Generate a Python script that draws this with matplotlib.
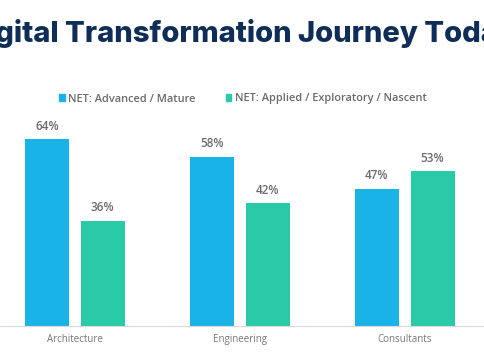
import matplotlib
matplotlib.use("Agg")
import matplotlib.pyplot as plt
from matplotlib.patches import Patch

# データ
categories = ["Architecture", "Engineering", "Consultants"]
advanced = [64, 58, 47]
applied = [36, 42, 53]
series_names = ["NET: Advanced / Mature", "NET: Applied / Exploratory / Nascent"]
title = "Digital Transformation Journey Today"

blue = "#19b3e8"
green = "#29caa7"
gray = "#6b6b6b"
navy = "#0e2e57"

plt.rcParams["font.family"] = ["Open Sans", "DejaVu Sans"]

fig = plt.figure(figsize=(4.85, 3.6), dpi=100)
ax = fig.add_axes([0, 34 / 360, 1, 326 / 360])

x = list(range(len(categories)))
w = 0.267
b1 = ax.bar([i - 0.17 for i in x], advanced, width=w, color=blue)
b2 = ax.bar([i + 0.167 for i in x], applied, width=w, color=green)

for bars, vals in [(b1, advanced), (b2, applied)]:
    for r, v in zip(bars, vals):
        ax.text(r.get_x() + r.get_width() / 2, v + 2.2, f"{v}%",
                ha="center", va="bottom", fontsize=8.5, color=gray, fontweight="semibold")

ax.set_xlim(-75 / 165, 410 / 165)
ax.set_ylim(0, 326 / 2.92)
ax.set_xticks(x)
ax.set_xticklabels(categories, fontsize=7, color="#777777")
ax.tick_params(axis="x", length=0, pad=6)
ax.set_yticks([])
for s in ["top", "left", "right"]:
    ax.spines[s].set_visible(False)
ax.spines["bottom"].set_color("#d9d9d9")
ax.spines["bottom"].set_linewidth(0.8)

handles = [Patch(color=blue), Patch(color=green)]
fig.legend(handles, series_names, loc="center", bbox_to_anchor=(243 / 485, 1 - 99 / 360),
           ncol=2, frameon=False, prop={"size": 7.9, "weight": "semibold"},
           handlelength=0.5, handleheight=0.5,
           handletextpad=0.3, columnspacing=2.75, labelcolor=gray)

fig.text(241 / 485, 1 - 33 / 360, title, ha="center", va="center",
         fontsize=21, fontweight="heavy", color=navy, family=["Inter", "DejaVu Sans"])

fig.savefig("out.png", dpi=100)
